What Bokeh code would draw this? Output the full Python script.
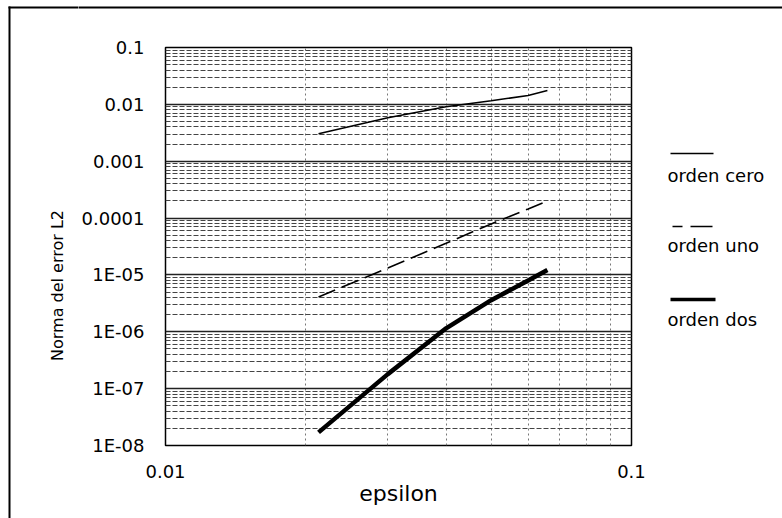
from bokeh.plotting import figure
from bokeh.layouts import column, row
from bokeh.models import FixedTicker, CustomJSTickFormatter, Range1d
from bokeh.core.properties import value
from bokeh.embed import file_html
from bokeh.resources import INLINE

# ---- data ----
epsilon = [0.0213, 0.03, 0.04, 0.05, 0.06, 0.066]
orden_cero = [0.00305, 0.0058, 0.0091, 0.0116, 0.0143, 0.0175]
orden_uno = [4.1e-6, 1.32e-5, 3.6e-5, 7.9e-5, 1.45e-4, 2.0e-4]
orden_dos = [1.7e-8, 1.8e-7, 1.15e-6, 3.6e-6, 8.0e-6, 1.22e-5]

series_names = ["orden cero", "orden uno", "orden dos"]

y_tick_values = [1e-8, 1e-7, 1e-6, 1e-5, 1e-4, 1e-3, 1e-2, 1e-1]
y_tick_labels = ["1E-08", "1E-07", "1E-06", "1E-05", "0.0001", "0.001", "0.01", "0.1"]
x_tick_values = [0.01, 0.1]
x_tick_labels = ["0.01", "0.1"]
x_minor = [0.02, 0.03, 0.04, 0.05, 0.06, 0.07, 0.08, 0.09]
y_minor = [m * 10.0 ** e for e in range(-8, -1) for m in range(2, 10)]

x_title = "epsilon"
y_title = "Norma del error L2"

FONT = "DejaVu Sans"

# ---- layout geometry (canvas pixels) ----
W, H = 782, 518
TOP_H = 30          # height of top strip (outer border line)
LEFT_W = 78         # width of left strip (outer border + y title)
FRAME_L, FRAME_R = 165, 631
FRAME_T, FRAME_B = 47, 445
MAIN_W = FRAME_R - LEFT_W + 20
LEG_W = W - LEFT_W - MAIN_W


def blank(width, height, x0, x1, ytop, ybot):
    f = figure(width=width, height=height, x_range=Range1d(x0, x1), y_range=Range1d(ybot, ytop),
               output_backend="svg", toolbar_location=None,
               min_border=0, min_border_left=0, min_border_right=0,
               min_border_top=0, min_border_bottom=0,
               x_axis_location=None, y_axis_location=None,
               background_fill_color="white", border_fill_color="white")
    f.grid.visible = False
    f.outline_line_color = None
    return f


# left strip (full height): outer border (left line + start of top line) and y title
left = blank(LEFT_W, H, 0, LEFT_W, 0, H)
left.segment(x0=[9, 8], y0=[6, 7], x1=[9, LEFT_W + 2], y1=[H + 5, 7], line_color="black", line_width=2)
left.text(x=[57], y=[285], text=[y_title], angle=1.5708, text_align="center",
          text_baseline="middle", text_font=value(FONT), text_font_size="16px", text_color="black")

# top strip: rest of the top border line
top = blank(W - LEFT_W, TOP_H, LEFT_W, W, 0, TOP_H)
top.segment(x0=[LEFT_W - 2], y0=[7], x1=[W + 5], y1=[7], line_color="black", line_width=2)

# main chart
p = figure(width=MAIN_W, height=H - TOP_H, x_axis_type="log", y_axis_type="log",
           x_range=(0.01, 0.1), y_range=(1e-8, 0.1),
           output_backend="svg", toolbar_location=None,
           min_border_left=FRAME_L - LEFT_W, min_border_right=MAIN_W - (FRAME_R - LEFT_W),
           min_border_top=FRAME_T - TOP_H, min_border_bottom=H - FRAME_B,
           background_fill_color="white", border_fill_color="white")

p.outline_line_color = "black"
p.outline_line_width = 1.5

fmt_code = """
for (let i = 0; i < vals.length; i++) {
  if (Math.abs(Math.log10(tick) - Math.log10(vals[i])) < 1e-6) return labs[i];
}
return '';
"""
p.xaxis.ticker = FixedTicker(ticks=x_tick_values, minor_ticks=x_minor)
p.yaxis.ticker = FixedTicker(ticks=y_tick_values, minor_ticks=y_minor)
p.xaxis.formatter = CustomJSTickFormatter(args=dict(vals=x_tick_values, labs=x_tick_labels), code=fmt_code)
p.yaxis.formatter = CustomJSTickFormatter(args=dict(vals=y_tick_values, labs=y_tick_labels), code=fmt_code)

for ax in (p.xaxis, p.yaxis):
    ax.axis_line_color = None
    ax.major_tick_line_color = None
    ax.minor_tick_line_color = None
    ax.major_label_text_font = FONT
    ax.major_label_text_font_size = "18px"
    ax.major_label_text_color = "black"

p.yaxis.major_label_standoff = 15
p.xaxis.major_label_standoff = 13

p.xaxis.axis_label = x_title
p.xaxis.axis_label_text_font = FONT
p.xaxis.axis_label_text_font_size = "22px"
p.xaxis.axis_label_text_font_style = "normal"
p.xaxis.axis_label_text_color = "black"
p.xaxis.axis_label_standoff = 0

p.xgrid.grid_line_color = None
p.xgrid.minor_grid_line_color = "#777777"
p.xgrid.minor_grid_line_dash = "2 3"
p.xgrid.minor_grid_line_width = 1
p.ygrid.grid_line_color = "#222222"
p.ygrid.grid_line_width = 1.5
p.ygrid.minor_grid_line_color = "#444444"
p.ygrid.minor_grid_line_dash = "5 2"
p.ygrid.minor_grid_line_width = 1

p.line(epsilon, orden_cero, line_color="black", line_width=1.6)
p.line(epsilon, orden_uno, line_color="black", line_width=1.6, line_dash="18 7")
p.line(epsilon, orden_dos, line_color="black", line_width=4.5)

# legend strip: its frame is aligned with the main frame (canvas y 47..445)
x_leg0 = LEFT_W + MAIN_W
leg = blank(LEG_W, H - TOP_H, x_leg0, W, FRAME_T, FRAME_B)
leg_text_base = [175, 245, 319]
leg_line_y = [153, 226, 299]
leg.segment(x0=[670], y0=[leg_line_y[0]], x1=[713], y1=[leg_line_y[0]], line_color="black", line_width=1.5)
leg.segment(x0=[672], y0=[leg_line_y[1]], x1=[712], y1=[leg_line_y[1]], line_color="black",
            line_width=1.5, line_dash="10 8 22 40")
leg.segment(x0=[670], y0=[leg_line_y[2]], x1=[715], y1=[leg_line_y[2]], line_color="black", line_width=3.5)
leg.text(x=[667] * 3, y=leg_text_base, text=series_names, text_align="left",
         text_baseline="alphabetic", text_font=value(FONT), text_font_size="18px", text_color="black")

layout = row(left, column(top, row(p, leg, spacing=0), spacing=0), spacing=0)

open("out.html", "w").write(file_html(layout, INLINE))
